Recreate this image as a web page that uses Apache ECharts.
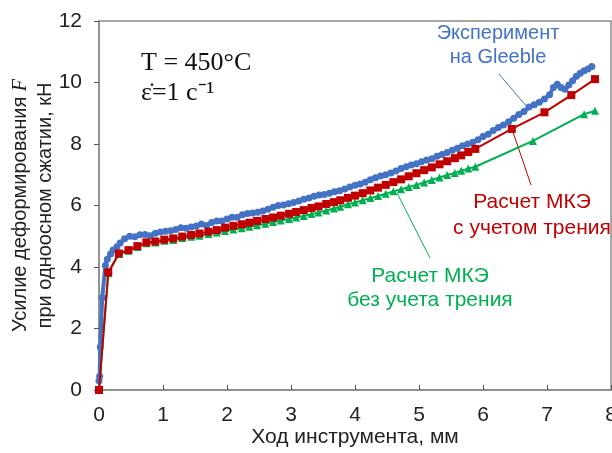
<!DOCTYPE html>
<html>
<head>
<meta charset="utf-8">
<script src="https://cdn.jsdelivr.net/npm/echarts@6/dist/echarts.min.js"></script>
<style>
  html, body { margin: 0; padding: 0; background: #fff; }
  #chart { width: 612px; height: 453px; }
</style>
</head>
<body>
<div id="chart"></div>
<script>
// эксперимент на Gleeble: [ход, мм ; усилие, кН]
const expData = [
  [0, 0.3], [0.01, 0.45], [0.02, 1.4], [0.05, 3.0], [0.1, 4.05], [0.13, 4.25], [0.18, 4.42],
  [0.22, 4.55], [0.28, 4.66], [0.33, 4.78], [0.4, 4.92], [0.48, 5.0], [0.56, 4.98], [0.64, 5.05],
  [0.72, 5.06], [0.8, 5.02], [0.88, 5.1], [0.96, 5.14], [1.04, 5.16], [1.12, 5.18], [1.2, 5.22],
  [1.28, 5.28], [1.36, 5.26], [1.44, 5.3], [1.52, 5.33], [1.6, 5.4], [1.68, 5.35], [1.76, 5.45],
  [1.84, 5.5], [1.92, 5.5], [2.0, 5.56], [2.08, 5.62], [2.16, 5.62], [2.24, 5.7], [2.32, 5.74],
  [2.4, 5.76], [2.48, 5.78], [2.56, 5.82], [2.64, 5.88], [2.72, 5.94], [2.8, 6.0], [2.88, 6.02],
  [2.96, 6.06], [3.04, 6.1], [3.12, 6.15], [3.2, 6.2], [3.28, 6.24], [3.36, 6.3], [3.44, 6.34],
  [3.52, 6.36], [3.6, 6.4], [3.68, 6.45], [3.76, 6.48], [3.84, 6.54], [3.92, 6.6], [4.0, 6.66],
  [4.08, 6.7], [4.16, 6.76], [4.24, 6.84], [4.32, 6.9], [4.4, 6.96], [4.48, 7.0], [4.56, 7.06],
  [4.64, 7.12], [4.72, 7.2], [4.8, 7.26], [4.88, 7.32], [4.96, 7.36], [5.04, 7.42], [5.12, 7.48],
  [5.2, 7.52], [5.28, 7.6], [5.36, 7.66], [5.44, 7.72], [5.52, 7.8], [5.6, 7.86], [5.68, 7.94],
  [5.76, 8.0], [5.84, 8.06], [5.92, 8.14], [6.0, 8.24], [6.08, 8.32], [6.16, 8.44], [6.24, 8.54],
  [6.32, 8.62], [6.4, 8.72], [6.48, 8.84], [6.56, 8.96], [6.64, 9.06], [6.72, 9.2], [6.8, 9.28],
  [6.88, 9.36], [6.96, 9.46], [7.04, 9.6], [7.1, 9.84], [7.16, 9.94], [7.22, 9.84], [7.28, 9.78],
  [7.34, 9.92], [7.4, 10.06], [7.46, 10.2], [7.52, 10.3], [7.58, 10.38], [7.64, 10.44], [7.7, 10.52]
];

// расчет МКЭ с учетом трения
const femFriction = [
  [0, 0], [0.145, 3.83], [0.31, 4.44], [0.46, 4.55], [0.6, 4.68], [0.74, 4.8], [0.88, 4.83],
  [1.02, 4.89], [1.16, 4.93], [1.3, 4.99], [1.44, 5.04], [1.57, 5.09], [1.71, 5.15], [1.84, 5.2],
  [1.97, 5.28], [2.1, 5.34], [2.23, 5.39], [2.35, 5.44], [2.47, 5.5], [2.6, 5.56], [2.72, 5.61],
  [2.84, 5.67], [2.97, 5.73], [3.08, 5.79], [3.2, 5.85], [3.32, 5.92], [3.43, 5.97], [3.55, 6.05],
  [3.67, 6.11], [3.77, 6.17], [3.89, 6.25], [4.0, 6.32], [4.12, 6.4], [4.24, 6.49], [4.36, 6.58],
  [4.48, 6.67], [4.6, 6.76], [4.72, 6.85], [4.84, 6.95], [4.96, 7.05], [5.08, 7.15], [5.2, 7.24],
  [5.32, 7.34], [5.44, 7.44], [5.56, 7.54], [5.66, 7.63], [5.77, 7.74], [5.88, 7.84],
  [6.45, 8.49], [6.96, 9.03], [7.38, 9.59], [7.75, 10.11]
];

// расчет МКЭ без учета трения
const femNoFriction = [
  [0, 0], [0.145, 3.8], [0.31, 4.42], [0.46, 4.53], [0.6, 4.65], [0.74, 4.77], [0.88, 4.8],
  [1.02, 4.85], [1.16, 4.88], [1.3, 4.94], [1.44, 4.98], [1.57, 5.02], [1.71, 5.07], [1.84, 5.12],
  [1.97, 5.17], [2.1, 5.22], [2.23, 5.26], [2.35, 5.31], [2.47, 5.36], [2.6, 5.41], [2.72, 5.46],
  [2.84, 5.51], [2.97, 5.56], [3.08, 5.61], [3.2, 5.66], [3.32, 5.72], [3.43, 5.77], [3.55, 5.84],
  [3.67, 5.9], [3.77, 5.96], [3.89, 6.04], [4.0, 6.1], [4.12, 6.17], [4.24, 6.24], [4.36, 6.31],
  [4.48, 6.38], [4.6, 6.46], [4.72, 6.53], [4.84, 6.6], [4.96, 6.67], [5.08, 6.75], [5.2, 6.83],
  [5.32, 6.91], [5.44, 6.99], [5.56, 7.06], [5.66, 7.13], [5.77, 7.2], [5.88, 7.26],
  [6.78, 8.1], [7.58, 8.97], [7.75, 9.08]
];

const BLUE = "#4472C4";
const RED = "#C00000";
const GREEN = "#00B050";
const FONT = "Liberation Sans";

const myChart = echarts.init(document.getElementById("chart"));

myChart.setOption({
  animation: false,
  grid: {
    left: 99,
    top: 21,
    right: 1,
    bottom: 63,
    outerBoundsMode: "none",
    containLabel: false,
    show: true,
    borderColor: "#8c8c8c",
    borderWidth: 1.5
  },
  xAxis: {
    type: "value",
    min: 0,
    max: 8,
    interval: 1,
    name: "Ход инструмента, мм",
    nameLocation: "middle",
    nameGap: 37,
    nameMoveOverlap: false,
    nameTextStyle: { fontFamily: FONT, fontSize: 21, color: "#222" },
    axisLine: { onZero: false, lineStyle: { color: "#8c8c8c", width: 1.5 } },
    axisTick: { inside: true, length: 5, lineStyle: { color: "#555" } },
    axisLabel: { fontFamily: FONT, fontSize: 21, color: "#222", margin: 15 },
    splitLine: { show: false }
  },
  yAxis: {
    type: "value",
    min: 0,
    max: 12,
    interval: 2,
    name: "Усилие деформирования {f|F}\nпри одноосном сжатии, кН",
    nameLocation: "middle",
    nameRotate: 90,
    nameGap: 41,
    nameMoveOverlap: false,
    nameTextStyle: {
      fontFamily: FONT,
      fontSize: 20,
      color: "#222",
      lineHeight: 25,
      rich: {
        f: { fontFamily: "Liberation Serif", fontStyle: "italic", fontSize: 20, color: "#222" }
      }
    },
    axisLine: { show: true, lineStyle: { color: "#8c8c8c", width: 1.5 } },
    axisTick: { show: true, inside: false, length: 5, lineStyle: { color: "#555" } },
    axisLabel: { fontFamily: FONT, fontSize: 21, color: "#222", margin: 17 },
    splitLine: { show: false }
  },
  series: [
    {
      name: "Эксперимент на Gleeble",
      type: "line",
      data: expData,
      symbol: "circle",
      symbolSize: 7,
      showAllSymbol: true,
      itemStyle: { color: BLUE },
      lineStyle: { color: BLUE, width: 4 },
      z: 2
    },
    {
      name: "Расчет МКЭ без учета трения",
      type: "line",
      data: femNoFriction,
      symbol: "triangle",
      symbolSize: 8,
      showAllSymbol: true,
      itemStyle: { color: GREEN },
      lineStyle: { color: GREEN, width: 2 },
      z: 3
    },
    {
      name: "Расчет МКЭ с учетом трения",
      type: "line",
      data: femFriction,
      symbol: "rect",
      symbolSize: 8,
      showAllSymbol: true,
      itemStyle: { color: RED },
      lineStyle: { color: RED, width: 2 },
      z: 4
    }
  ],
  graphic: [
    {
      type: "text",
      left: 141,
      top: 50,
      style: {
        text: "T = 450°C",
        fontFamily: "Liberation Serif",
        fontSize: 26,
        fill: "#111"
      }
    },
    {
      type: "text",
      left: 141,
      top: 80,
      style: {
        text: "ε̇=1 с⁻¹",
        fontFamily: "Liberation Serif",
        fontSize: 26,
        fill: "#111"
      }
    },
    {
      type: "text",
      x: 498,
      y: 45,
      style: {
        text: "Эксперимент\nна Gleeble",
        fontFamily: FONT,
        fontSize: 20,
        lineHeight: 24,
        fill: BLUE,
        align: "center",
        verticalAlign: "middle"
      }
    },
    {
      type: "line",
      shape: { x1: 499, y1: 74, x2: 527, y2: 107 },
      style: { stroke: BLUE, lineWidth: 1 }
    },
    {
      type: "text",
      x: 532,
      y: 215,
      style: {
        text: "Расчет МКЭ\nс учетом трения",
        fontFamily: FONT,
        fontSize: 21,
        lineHeight: 26,
        fill: RED,
        align: "center",
        verticalAlign: "middle"
      }
    },
    {
      type: "line",
      shape: { x1: 513, y1: 132, x2: 531, y2: 185 },
      style: { stroke: RED, lineWidth: 1 }
    },
    {
      type: "text",
      x: 430,
      y: 288,
      style: {
        text: "Расчет МКЭ\nбез учета трения",
        fontFamily: FONT,
        fontSize: 21,
        lineHeight: 24,
        fill: GREEN,
        align: "center",
        verticalAlign: "middle"
      }
    },
    {
      type: "line",
      shape: { x1: 397, y1: 193, x2: 430, y2: 258 },
      style: { stroke: GREEN, lineWidth: 1 }
    }
  ]
});
</script>
</body>
</html>
